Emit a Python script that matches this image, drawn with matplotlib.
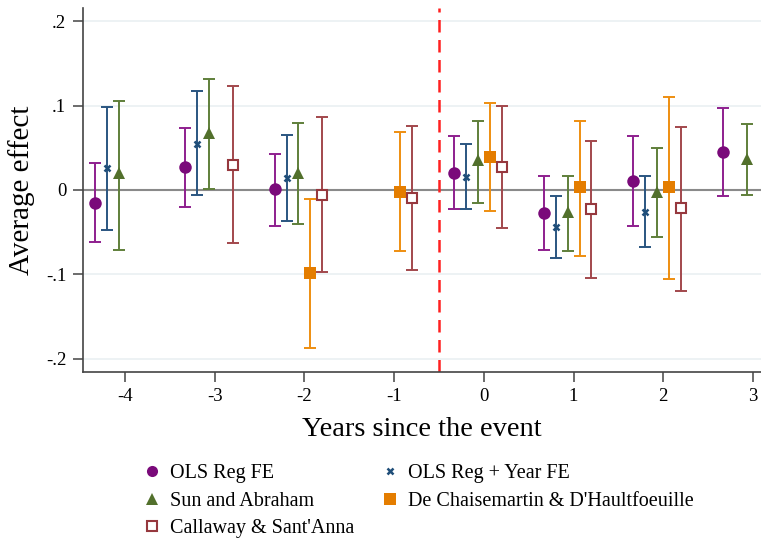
import numpy as np
import matplotlib
matplotlib.use("Agg")
import matplotlib.pyplot as plt
from matplotlib.lines import Line2D

plt.rcParams['font.family'] = ['Liberation Serif', 'DejaVu Serif']

# 事件期間
periods = [-4, -3, -2, -1, 0, 1, 2, 3]

# 各估計方法: 點估計, 信賴區間下限, 上限 (None 表示沒有)
ols_est = [-0.016, 0.027, 0.001, None, 0.020, -0.027, 0.010, 0.045]
ols_lo = [-0.062, -0.020, -0.043, None, -0.023, -0.071, -0.043, -0.007]
ols_hi = [0.032, 0.073, 0.043, None, 0.064, 0.017, 0.064, 0.097]

year_est = [0.026, 0.054, 0.014, None, 0.015, -0.044, -0.026, None]
year_lo = [-0.047, -0.006, -0.037, None, -0.023, -0.081, -0.068, None]
year_hi = [0.098, 0.117, 0.065, None, 0.054, -0.007, 0.017, None]

sa_est = [0.020, 0.068, 0.020, None, 0.035, -0.026, -0.002, 0.037]
sa_lo = [-0.071, 0.001, -0.040, None, -0.016, -0.072, -0.056, -0.006]
sa_hi = [0.105, 0.132, 0.079, None, 0.082, 0.017, 0.050, 0.078]

dc_est = [None, None, -0.099, -0.002, 0.039, 0.003, 0.003, None]
dc_lo = [None, None, -0.187, -0.072, -0.025, -0.078, -0.105, None]
dc_hi = [None, None, -0.011, 0.069, 0.103, 0.082, 0.110, None]

cs_est = [None, 0.030, -0.006, -0.010, 0.027, -0.023, -0.022, None]
cs_lo = [None, -0.063, -0.097, -0.095, -0.045, -0.104, -0.120, None]
cs_hi = [None, 0.123, 0.086, 0.076, 0.099, 0.058, 0.075, None]

series = [
    ("OLS Reg FE", ols_est, ols_lo, ols_hi, -0.333, 'o', '#7a0a7a', '#8e1f8e', 9, True),
    ("OLS Reg + Year FE", year_est, year_lo, year_hi, -0.2, 'x', '#1f4e79', '#2a5580', 5, True),
    ("Sun and Abraham", sa_est, sa_lo, sa_hi, -0.067, '^', '#52702c', '#5f7f3a', 9, True),
    ("De Chaisemartin & D'Haultfoeuille", dc_est, dc_lo, dc_hi, 0.067, 's', '#e47d00', '#ee8e10', 8, True),
    ("Callaway & Sant'Anna", cs_est, cs_lo, cs_hi, 0.2, 's', '#96383e', '#a2474c', 7.5, False),
]

fig = plt.figure(figsize=(7.61, 5.38), dpi=100)
ax = fig.add_axes([0.109, 0.309, 0.891, 0.676])

for name, est, lo, hi, off, mk, mcol, lcol, ms, filled in series:
    x = np.array([p + off for p, e in zip(periods, est) if e is not None])
    e = np.array([v for v in est if v is not None])
    l = np.array([v for v in lo if v is not None])
    h = np.array([v for v in hi if v is not None])
    ax.errorbar(x, e, yerr=[e - l, h - e], fmt='none', ecolor=lcol,
                elinewidth=1.4, capsize=4, capthick=1.4, zorder=3)
    if filled:
        ax.plot(x, e, linestyle='none', marker=mk, markersize=ms, color=mcol,
                markeredgewidth=1.8 if mk == 'x' else 0, zorder=4)
    else:
        ax.plot(x, e, linestyle='none', marker=mk, markersize=ms,
                markerfacecolor='white', markeredgecolor=mcol,
                markeredgewidth=1.5, zorder=4)

ax.axhline(0, color='#8a8a8a', linewidth=1.5, zorder=2)
ax.axvline(-0.5, color='#ff2020', linewidth=1.8, linestyle=(0, (5, 3)), zorder=2)

ax.set_xlim(-4.47, 3.09)
ax.set_ylim(-0.2155, 0.2155)
ax.set_xticks(periods)
ax.set_xticklabels([str(p) for p in periods])
ax.set_yticks([-0.2, -0.1, 0, 0.1, 0.2])
ax.set_yticklabels(['-.2', '-.1', '0', '.1', '.2'])
for yv in [-0.2, -0.1, 0.1, 0.2]:
    ax.axhline(yv, color='#eaf0f2', linewidth=1.2, zorder=1)

for s in ['top', 'right']:
    ax.spines[s].set_visible(False)
for s in ['left', 'bottom']:
    ax.spines[s].set_color('#444444')
    ax.spines[s].set_linewidth(1.2)
ax.tick_params(axis='both', length=7, width=1.1, color='#444444', labelsize=13.5, pad=5)

ax.set_xlabel('Years since the event', fontsize=20.5, labelpad=8)
ax.set_ylabel('Average effect', fontsize=21, labelpad=8)

handles = [
    Line2D([], [], linestyle='none', marker='o', color='#7a0a7a', markersize=8, markeredgewidth=0),
    Line2D([], [], linestyle='none', marker='^', color='#52702c', markersize=8, markeredgewidth=0),
    Line2D([], [], linestyle='none', marker='s', markerfacecolor='white', markeredgecolor='#96383e', markersize=7, markeredgewidth=1.5),
    Line2D([], [], linestyle='none', marker='x', color='#1f4e79', markersize=5, markeredgewidth=1.8),
    Line2D([], [], linestyle='none', marker='s', color='#e47d00', markersize=8, markeredgewidth=0),
]
labels = ["OLS Reg FE", "Sun and Abraham", "Callaway & Sant'Anna",
          "OLS Reg + Year FE", "De Chaisemartin & D'Haultfoeuille"]
fig.legend(handles, labels, ncol=2, loc='upper left', bbox_to_anchor=(0.178, 0.152),
           frameon=False, fontsize=14.5, handlelength=0.8, handletextpad=0.5,
           columnspacing=1.4, labelspacing=0.42, borderaxespad=0)

fig.savefig('out.png', dpi=100)
